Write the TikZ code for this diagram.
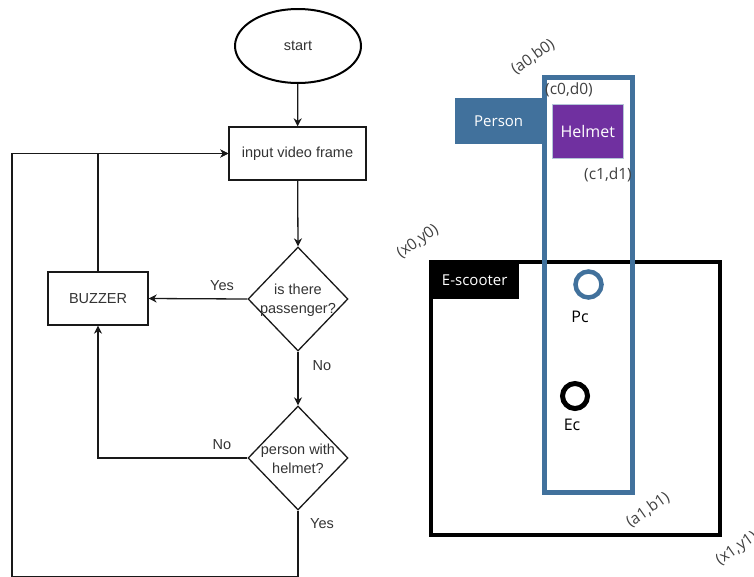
\documentclass[tikz,border=0pt]{standalone}
\usepackage{fontspec}
\setmainfont{Liberation Sans}
\newfontfamily\segoe{Open Sans}
\usetikzlibrary{shapes.geometric,arrows.meta}
\definecolor{pblue}{RGB}{65,113,156}
\definecolor{hpurple}{RGB}{112,48,160}
\definecolor{ftext}{RGB}{51,51,51}
\definecolor{lgray}{RGB}{64,64,64}
\begin{document}
\begin{tikzpicture}[x=1pt,y=-1pt,
  flow/.style={draw=black!90, line width=1.3pt},
  arr/.style={flow, -{Stealth[length=8pt,width=8pt,inset=2.5pt]}},
  ftxt/.style={font=\fontsize{14.5}{19}\selectfont, text=ftext},
  procbox/.style={draw=black!90, line width=1.3pt, inner sep=0pt, ftxt},
  decision/.style={draw=black!90, line width=1.3pt, diamond, minimum width=100pt, minimum height=104pt, inner sep=0pt},
  terminal/.style={draw=black, line width=2pt, ellipse, minimum width=126pt, minimum height=74pt, inner sep=0pt, ftxt},
  edgelbl/.style={ftxt, inner sep=0pt},
  coordlbl/.style={font=\segoe\fontsize{15.5}{17}\selectfont, text=lgray, inner sep=0pt},
  tagbox/.style={inner sep=0pt, font=\segoe\fontsize{15}{17}\selectfont, text=white},
  centerlbl/.style={font=\segoe\fontsize{16}{18}\selectfont, text=black, inner sep=0pt}
]
\useasboundingbox (0,0) rectangle (754,576);

% ---------------- flowchart ----------------
\node[terminal] (start) at (298,46) {start};
\node[procbox, minimum width=137pt, minimum height=53pt] (input) at (297.5,153.5) {input video frame};
\node[decision] (q1) at (298,299) {};
\node[ftxt, align=center, inner sep=0pt] (q1t) at (298,300) {is there\\passenger?};
\node[decision] (q2) at (298,458) {};
\node[ftxt, align=center, inner sep=0pt] (q2t) at (298,459) {person with\\helmet?};
\node[procbox, minimum width=100pt, minimum height=53pt] (buzzer) at (98,298.5) {BUZZER};

\coordinate (bend1) at (298,576.3);
\coordinate (bend2) at (12,576.3);

\draw[arr] (start) -- (input);
\draw[arr] (input) -- (q1.north);
\draw[arr] (q1.west) -- (buzzer.east);
\draw[arr] (q1.south) -- (q2.north);
\draw[arr] (q2.west) -| (buzzer.south);
\draw[arr] (buzzer.north) |- (input.west);
\draw[arr] (q2.south) -- (bend1) -- (bend2) |- (input.west);

\node[edgelbl] (lyes1) at (222,286) {Yes};
\node[edgelbl] (lno1) at (322,366) {No};
\node[edgelbl] (lno2) at (222,445) {No};
\node[edgelbl] (lyes2) at (322,524) {Yes};

% ---------------- bounding boxes ----------------
\draw[black, line width=4.5pt] (431,262) rectangle (720,535);
\node[tagbox, fill=black, minimum width=89pt, minimum height=37pt, anchor=north west] (escooter) at (430,262) {E-scooter};

\draw[pblue, line width=4.5pt] (544.5,77.5) rectangle (632.5,492.5);
\node[tagbox, fill=pblue, minimum width=87pt, minimum height=46pt, anchor=north west] (person) at (455,98) {Person};
\node[tagbox, fill=hpurple, draw=pblue!40, line width=0.6pt, minimum width=71pt, minimum height=54pt, anchor=north west, font=\segoe\fontsize{16}{18}\selectfont] (helmet) at (552,104) {Helmet};

\draw[pblue, line width=4.5pt] (588.5,284.5) circle[radius=13];
\node[centerlbl] (pc) at (580,317) {Pc};
\draw[black, line width=5pt] (575,396) circle[radius=12.5];
\node[centerlbl] (ec) at (572,425) {Ec};

\node[coordlbl, rotate=35] (a0b0) at (533,57) {(a0,b0)};
\node[coordlbl] (c0d0) at (569,90) {(c0,d0)};
\node[coordlbl] (c1d1) at (608,175) {(c1,d1)};
\node[coordlbl, rotate=35] (x0y0) at (418,242) {(x0,y0)};
\node[coordlbl, rotate=35] (a1b1) at (648,510) {(a1,b1)};
\node[coordlbl, rotate=35] (x1y1) at (737,549) {(x1,y1)};
\end{tikzpicture}
\end{document}
